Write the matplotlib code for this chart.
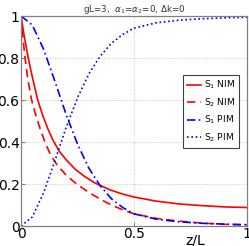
import matplotlib
matplotlib.use("Agg")
import matplotlib.pyplot as plt

# data
z_nim1 = [0, 0.015, 0.032, 0.05, 0.074, 0.095, 0.118, 0.143, 0.17, 0.2, 0.24, 0.28, 0.327, 0.394, 0.45, 0.5, 0.6, 0.7, 0.8, 0.9, 1.0]
s1_nim = [1.0, 0.9, 0.8, 0.71, 0.6, 0.53, 0.465, 0.405, 0.355, 0.315, 0.27, 0.237, 0.205, 0.172, 0.152, 0.138, 0.118, 0.105, 0.097, 0.091, 0.088]

z_nim2 = [0, 0.008, 0.018, 0.03, 0.047, 0.065, 0.084, 0.106, 0.13, 0.16, 0.2, 0.246, 0.3, 0.35, 0.4, 0.45, 0.5, 0.6, 0.7, 0.8, 0.9, 1.0]
s2_nim = [1.0, 0.9, 0.8, 0.7, 0.6, 0.53, 0.465, 0.4, 0.34, 0.29, 0.242, 0.2, 0.16, 0.128, 0.1, 0.077, 0.058, 0.036, 0.023, 0.014, 0.008, 0.005]

z_pim = [0, 0.05, 0.1, 0.15, 0.2, 0.25, 0.3, 0.35, 0.4, 0.45, 0.5, 0.6, 0.7, 0.8, 0.9, 1.0]
s1_pim = [1.0, 0.957, 0.842, 0.689, 0.53, 0.39, 0.276, 0.192, 0.13, 0.088, 0.058, 0.032, 0.02, 0.013, 0.009, 0.006]
s2_pim = [0.0, 0.043, 0.158, 0.311, 0.47, 0.61, 0.724, 0.808, 0.87, 0.912, 0.942, 0.968, 0.98, 0.987, 0.991, 0.994]

x_ticks = [0, 0.5, 1]
x_ticklabels = ["0", "0.5", "1"]
y_ticks = [0, 0.2, 0.4, 0.6, 0.8, 1]
y_ticklabels = ["0", "0.2", "0.4", "0.6", "0.8", "1"]

fig = plt.figure(figsize=(2.49, 2.46), dpi=100)
ax = fig.add_axes([21/249, 20/246, 226/249, 210/246])

lw = 1.2
ax.plot(z_nim1, s1_nim, color=(1, 0, 0), lw=lw, ls='-', label=r'S$_1$ NIM')
ax.plot(z_nim2, s2_nim, color=(1, 0, 0), lw=lw, ls=(0, (5, 3)), label=r'S$_2$ NIM')
ax.plot(z_pim, s1_pim, color=(0, 0, 1), lw=lw, ls=(0, (5, 2, 1, 2)), label=r'S$_1$ PIM')
ax.plot(z_pim, s2_pim, color=(0, 0, 1), lw=lw, ls=(0, (1, 1.6)), label=r'S$_2$ PIM')

ax.set_xlim(0, 1)
ax.set_ylim(0, 1)
ax.set_xticks(x_ticks)
ax.set_xticklabels(x_ticklabels)
ax.set_yticks(y_ticks)
ax.set_yticklabels(y_ticklabels)
ax.tick_params(direction='in', length=3, labelsize=10, pad=1, color='#808080')
ax.grid(True, ls=':', color='#c8c8c8', lw=0.7)
for s in ax.spines.values():
    s.set_color('#808080')
    s.set_linewidth(0.9)

ax.set_title(r'gL=3,  $\alpha_1$=$\alpha_2$=0, $\Delta$k=0', fontsize=6.3, pad=2, color='#333333')
ax.text(0.77, -0.035, 'z/L', transform=ax.transAxes, ha='center', va='top', fontsize=10)

leg = ax.legend(loc='upper right', bbox_to_anchor=(0.965, 0.72), fontsize=6.5,
                handlelength=1.6, handletextpad=0.3, labelspacing=0.55, borderpad=0.45,
                fancybox=False, framealpha=1, edgecolor='#404040', borderaxespad=0)
leg.get_frame().set_linewidth(0.8)

fig.savefig('out.png', dpi=100)
